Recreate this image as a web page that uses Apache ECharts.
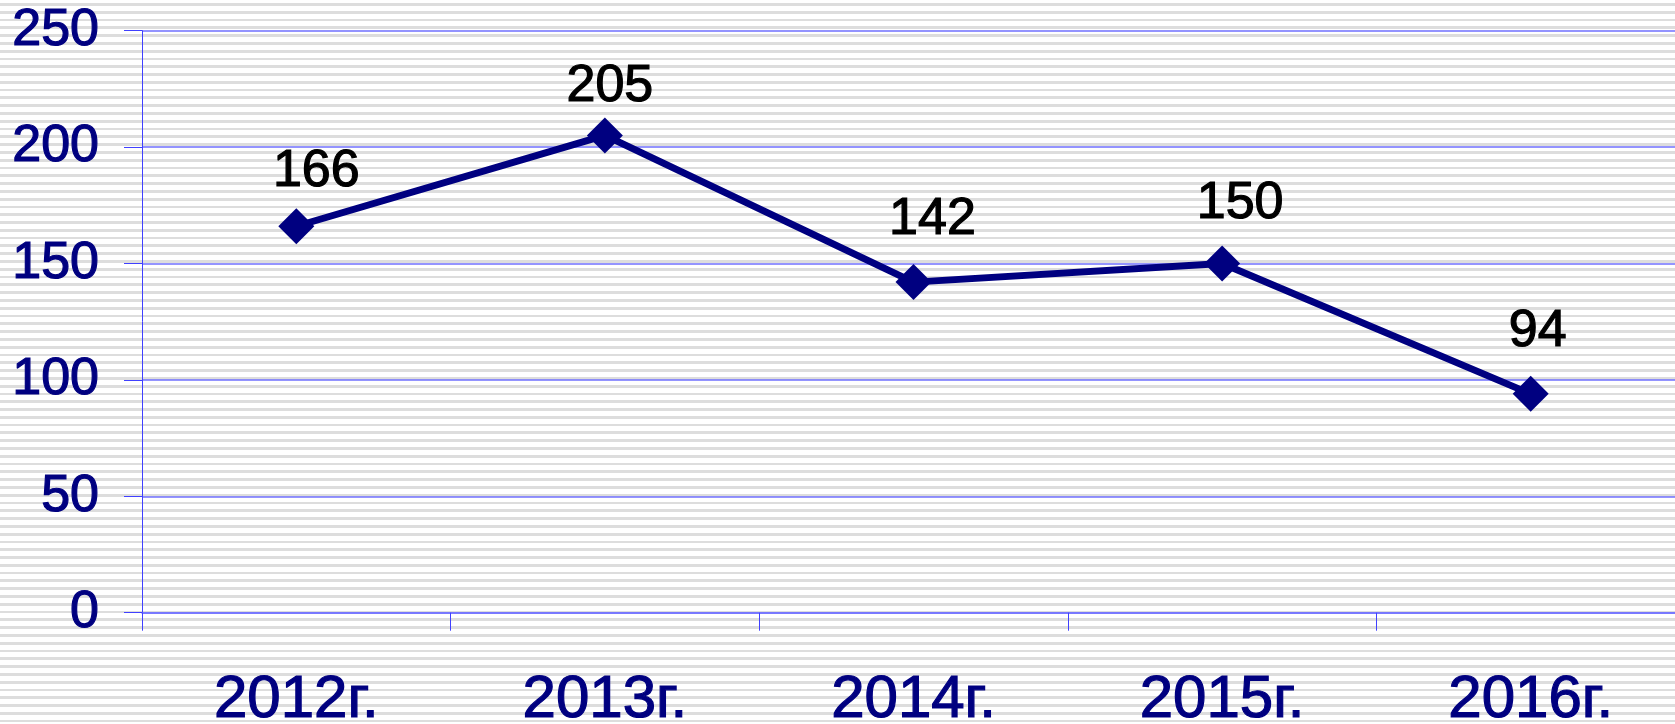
<!DOCTYPE html>
<html>
<head>
<meta charset="utf-8">
<script src="https://cdn.jsdelivr.net/npm/echarts@6/dist/echarts.min.js"></script>
<style>
  html, body { margin: 0; padding: 0; }
  #Charts1 {
    width: 1675px; height: 724px;
    background: repeating-linear-gradient(to bottom, #ffffff 0px, #ffffff 3px, #dddddd 3px, #dddddd 5.8px, #ffffff 5.8px, #ffffff 7.79px);
  }
</style>
</head>
<body>
<div id="Charts1"></div>
<script>
// данные
var years = ['2012г.', '2013г.', '2014г.', '2015г.', '2016г.'];
var counts = [166, 205, 142, 150, 94];
var yTicks = [0, 50, 100, 150, 200, 250];

// сдвиг подписей как в оригинале
var labelShift = [[20, 5], [5, 11], [19, -2], [18, 0], [7, -2]];

var myChart = echarts.init(document.getElementById('Charts1'));
var font = '"Liberation Sans", Arial, sans-serif';

var pts = [];
for (var i = 0; i < counts.length; i++) {
	pts.push({ value: counts[i], label: { offset: labelShift[i] } });
}

var option = {
	animation: false,
	grid: { left: 142, top: 30.7, bottom: 111.3, width: 1543, outerBoundsMode: 'none' },
	xAxis: {
		type: 'category',
		data: years,
		boundaryGap: true,
		axisLine: { lineStyle: { color: '#7070ff', width: 1.5 } },
		axisTick: { show: true, length: 18, lineStyle: { color: '#4040ff', width: 1 } },
		axisLabel: {
			color: '#000080', fontSize: 60, fontFamily: font, margin: 58,
			textBorderColor: '#000080', textBorderWidth: 1.2
		}
	},
	yAxis: {
		type: 'value',
		min: yTicks[0],
		max: yTicks[yTicks.length - 1],
		interval: 50,
		axisLine: { show: true, lineStyle: { color: '#4040ff', width: 1 } },
		axisTick: { show: true, length: 18, lineStyle: { color: '#4040ff', width: 1 } },
		axisLabel: {
			color: '#000080', fontSize: 52, fontFamily: font, margin: 43,
			textBorderColor: '#000080', textBorderWidth: 1.2
		},
		splitLine: { show: true, lineStyle: { color: '#7070ff', width: 1.5 } }
	},
	series: [{
		type: 'line',
		data: pts,
		symbol: 'diamond',
		symbolSize: 36,
		itemStyle: { color: '#000080' },
		lineStyle: { color: '#000080', width: 7 },
		label: {
			show: true,
			position: 'top',
			distance: 16,
			color: '#000000',
			fontSize: 52,
			fontFamily: font,
			textBorderColor: '#000000',
			textBorderWidth: 1.2
		}
	}]
};
myChart.setOption(option);
</script>
</body>
</html>
